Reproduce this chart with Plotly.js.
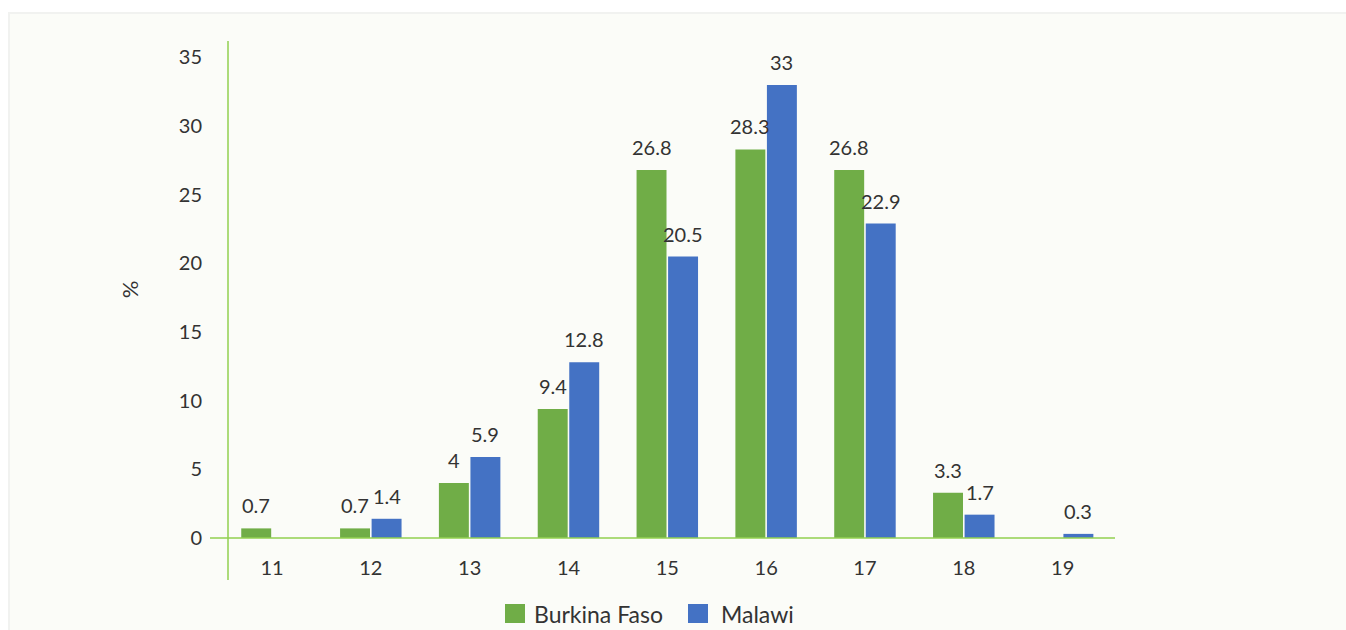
<!DOCTYPE html>
<html>
<head>
<meta charset="utf-8">
<script src="https://cdn.plot.ly/plotly-3.0.1.min.js"></script>
<style>
  html, body { margin: 0; padding: 0; background: #ffffff; width: 1346px; height: 630px; overflow: hidden; }
  #frame { position: absolute; left: 8px; top: 12px; width: 1346px; height: 640px; background: #fbfcf8; border-top: 2px solid #f1f2f0; border-left: 2px solid #f1f2f0; box-sizing: border-box; }
  #chart { position: absolute; left: 0; top: 0; width: 1346px; height: 630px; }
</style>
</head>
<body>
<div id="frame"></div>
<div id="chart"></div>
<script>
const ages = ["11", "12", "13", "14", "15", "16", "17", "18", "19"];
const burkinaFaso = [0.7, 0.7, 4, 9.4, 26.8, 28.3, 26.8, 3.3, null];
const malawi = [null, 1.4, 5.9, 12.8, 20.5, 33, 22.9, 1.7, 0.3];
const yTicks = [0, 5, 10, 15, 20, 25, 30, 35];
const seriesNames = ["Burkina Faso", "Malawi"];
const seriesColors = ["#70ad47", "#4472c4"];

const textColor = "#333333";
const fontFamily = "Lato, 'Noto Sans', sans-serif";

const plotL = 228, plotR = 1115, plotT = 41, plotB = 538;
const plotW = plotR - plotL, plotH = plotB - plotT;
const bargap = 0.362, bargroupgap = 0.05;
const xRange = [-0.445, 8.53];
const catPx = plotW / (xRange[1] - xRange[0]);
const slotPx = catPx * (1 - bargap) / 2;

const seriesData = [burkinaFaso, malawi];
const traces = seriesData.map((vals, s) => ({
  type: "bar", name: seriesNames[s], x: ages, y: vals,
  marker: { color: seriesColors[s] },
  showlegend: false,
  hoverinfo: "x+y+name"
}));

// value labels placed above each bar via the axis scales (category index on x)
const annotations = [];
seriesData.forEach((vals, s) => {
  vals.forEach((v, i) => {
    if (v === null) return;
    annotations.push({
      x: i, y: v, xref: "x", yref: "y",
      text: String(v), showarrow: false,
      xanchor: "center", yanchor: "bottom",
      xshift: (s === 0 ? -1 : 1) * slotPx / 2, yshift: 10,
      borderpad: 0,
      font: { family: fontFamily, size: 20, color: textColor }
    });
  });
});

// legend (drawn as shapes + text for the larger swatches)
const legendY = (plotB - 614) / plotH;
const legendItems = [
  { swatch: [505, 525], textX: 533 },
  { swatch: [688, 708], textX: 720 }
];
const shapes = [
  { type: "line", xref: "paper", yref: "paper", x0: 0, x1: 0, y0: (plotB - 580) / plotH, y1: 1,
    line: { color: "#92d050", width: 1.5 } },
  { type: "line", xref: "paper", yref: "paper", x0: (210 - plotL) / plotW, x1: 1, y0: 0, y1: 0,
    line: { color: "#92d050", width: 1.5 } }
];
legendItems.forEach((it, s) => {
  shapes.push({
    type: "rect", xref: "paper", yref: "paper",
    x0: (it.swatch[0] - plotL) / plotW, x1: (it.swatch[1] - plotL) / plotW,
    y0: (plotB - 604) / plotH, y1: (plotB - 623) / plotH,
    fillcolor: seriesColors[s], line: { width: 0 }
  });
  annotations.push({
    xref: "paper", yref: "paper", x: (it.textX - plotL) / plotW, y: legendY,
    xanchor: "left", yanchor: "middle", showarrow: false,
    text: seriesNames[s], borderpad: 0,
    font: { family: fontFamily, size: 23, color: textColor }
  });
});

const layout = {
  width: 1346, height: 630,
  margin: { l: plotL, r: 1346 - plotR, t: plotT, b: 630 - plotB, pad: 0, autoexpand: false },
  paper_bgcolor: "rgba(0,0,0,0)",
  plot_bgcolor: "rgba(0,0,0,0)",
  font: { family: fontFamily, size: 20, color: textColor },
  barmode: "group",
  bargap: bargap,
  bargroupgap: bargroupgap,
  showlegend: false,
  xaxis: {
    type: "category",
    range: xRange,
    showgrid: false, zeroline: false, showline: false,
    ticks: "", ticklabelstandoff: 16,
    tickfont: { family: fontFamily, size: 20, color: textColor },
    fixedrange: true
  },
  yaxis: {
    range: [0, 36.2],
    tickvals: yTicks,
    ticktext: yTicks.map(String),
    showgrid: false, zeroline: false, showline: false,
    ticks: "", ticklabelstandoff: 25,
    tickfont: { family: fontFamily, size: 20, color: textColor },
    title: { text: "%", standoff: 34, font: { family: fontFamily, size: 22, color: textColor } },
    fixedrange: true
  },
  shapes: shapes,
  annotations: annotations
};

Plotly.newPlot("chart", traces, layout, { displayModeBar: false, responsive: false });
</script>
</body>
</html>
